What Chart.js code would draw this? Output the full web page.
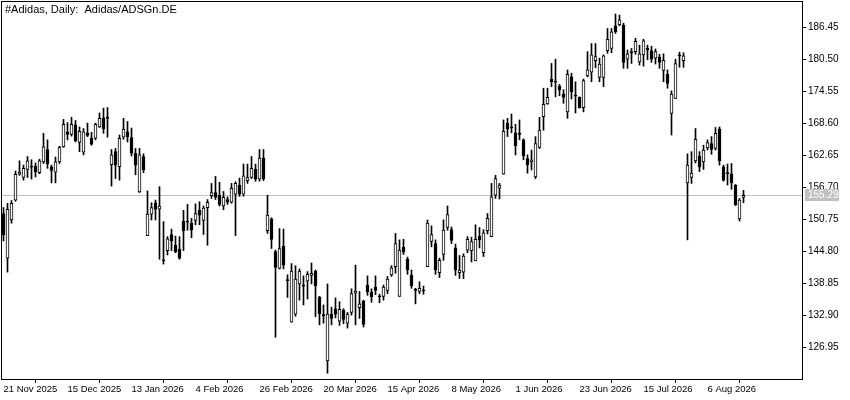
<!DOCTYPE html>
<html>
<head>
<meta charset="utf-8">
<script src="https://cdn.jsdelivr.net/npm/chart.js@4/dist/chart.umd.min.js"></script>
<style>
  html, body { margin: 0; padding: 0; background: #fff; }
  canvas { display: block; }
</style>
</head>
<body>
<canvas id="chart" width="850" height="400"></canvas>
<script>
// daily OHLC (one value per bar)
const opens = [151.9,143.6,150.7,154.4,159.2,158.6,160.1,160.7,160.7,159.5,161.5,163.8,160.6,159.6,161.5,164.3,167.1,166.6,168.4,165.1,
  163.3,166.9,165.9,165.9,168.0,169.7,169.9,161.0,163.4,160.6,166.1,167.1,166.0,163.1,155.9,162.5,147.8,151.8,153.9,152.7,
  143.3,145.0,148.0,146.0,145.3,150.5,150.5,150.1,150.6,152.5,150.6,153.0,155.2,155.8,155.3,153.3,154.5,154.0,155.5,157.2,
  155.5,158.0,158.6,160.1,158.3,162.2,148.7,150.9,144.8,141.7,145.8,139.6,131.7,133.2,138.8,138.6,139.3,140.4,141.2,136.3,
  133.1,124.5,133.2,134.2,131.9,133.9,131.5,133.5,137.1,134.4,135.6,138.6,137.3,138.2,136.6,136.5,137.6,140.5,142.0,136.5,
  145.6,143.4,140.4,137.8,137.4,137.6,142.0,146.7,146.3,140.9,144.3,149.3,148.9,145.5,140.9,141.0,145.1,145.0,143.1,147.7,
  144.6,148.7,147.6,155.3,156.6,159.2,168.7,168.0,166.9,166.8,165.6,162.1,161.5,158.7,164.2,169.9,172.3,176.9,176.5,175.6,
  174.1,170.8,177.3,173.9,173.5,171.6,177.5,178.2,180.3,177.2,177.2,182.2,182.6,186.8,187.0,186.9,180.6,182.0,182.0,180.1,
  181.4,182.6,182.2,180.8,181.0,178.5,177.8,170.5,173.3,181.4,180.3,157.6,158.6,161.7,162.6,161.5,164.1,164.9,164.0,167.6,
  160.6,159.5,159.3,157.2,150.9,154.9];
const highs = [153.0,153.8,154.3,159.8,161.7,160.9,162.5,161.9,161.3,162.0,166.8,165.6,160.9,162.4,164.4,169.4,168.8,169.8,169.2,168.0,
  167.7,168.7,167.0,168.7,170.6,171.5,171.6,163.8,164.0,166.5,169.6,169.0,167.8,164.0,164.0,163.0,156.1,153.9,154.4,156.9,
  150.4,147.6,149.0,147.7,147.6,152.5,153.6,151.0,153.7,154.1,153.3,154.5,157.5,158.8,157.7,156.0,155.0,157.5,157.8,158.5,
  161.1,161.1,162.5,161.1,163.8,163.8,155.3,151.1,145.1,149.1,149.0,140.5,142.6,142.2,141.6,140.3,141.1,142.7,141.4,136.5,
  134.9,138.8,134.5,136.2,135.5,134.2,133.5,137.9,142.3,137.4,135.8,140.3,137.9,140.3,136.9,138.6,140.2,142.2,148.2,147.0,
  147.1,143.8,141.4,138.0,139.2,138.4,150.7,149.6,147.0,143.6,150.7,153.3,149.4,146.2,144.1,144.4,147.6,147.5,149.8,149.3,
  148.9,151.9,157.5,159.0,157.5,169.3,169.6,170.4,168.5,169.3,165.8,162.8,163.7,166.2,169.8,175.2,175.2,179.8,180.6,175.9,
  174.9,178.6,178.0,176.4,173.6,176.9,182.0,183.5,183.5,180.8,181.4,186.3,186.3,189.0,188.8,187.3,182.3,182.6,184.5,183.2,
  184.3,183.2,183.0,182.5,181.5,181.6,178.6,174.7,180.6,181.9,181.8,163.0,163.4,167.7,163.4,164.6,165.6,166.2,167.9,168.0,
  160.9,161.1,161.2,157.3,154.7,156.2];
const lows = [146.8,141.0,150.1,154.2,159.0,158.1,158.6,158.3,158.7,159.3,161.2,160.3,157.6,157.6,161.2,164.2,165.6,166.3,165.2,163.4,
  162.8,166.2,164.6,165.6,167.9,166.8,166.1,157.0,158.4,158.1,165.7,165.2,162.6,159.1,155.8,159.5,147.8,150.7,150.7,143.4,
  142.5,144.2,145.0,144.6,143.4,145.0,148.8,147.4,149.8,149.8,148.0,146.0,154.7,154.5,153.3,152.6,153.6,153.8,147.8,155.1,
  155.1,157.5,158.4,157.9,157.9,158.0,148.2,145.4,128.9,141.6,141.6,136.3,131.7,132.8,135.8,134.9,136.0,138.8,132.7,131.2,
  131.5,122.2,131.2,132.5,131.1,131.4,130.6,133.0,131.2,132.4,130.8,136.7,135.4,136.8,135.3,135.8,137.0,140.2,140.8,136.5,
  144.3,140.6,138.0,135.1,137.0,136.9,142.0,145.7,140.6,140.0,143.2,148.8,146.3,140.4,139.8,139.8,144.6,142.9,143.1,145.5,
  143.9,148.1,147.6,154.7,154.6,159.2,166.2,166.9,162.8,165.6,161.9,159.4,160.0,158.4,164.0,167.4,172.2,175.5,173.6,173.8,
  172.4,169.6,173.2,170.6,171.5,170.8,177.3,176.4,179.0,176.4,175.5,181.7,181.8,185.4,186.8,178.9,178.9,179.8,181.5,179.5,
  179.3,180.5,180.0,179.7,178.9,176.4,175.2,166.5,173.3,179.1,179.1,147.0,157.5,161.3,159.7,160.1,163.7,162.9,163.7,160.9,
  157.9,157.2,156.4,153.4,150.5,153.9];
const closes = [147.9,152.7,153.8,159.2,159.6,160.3,161.7,160.5,159.7,161.7,164.3,161.1,159.9,161.5,164.2,168.5,166.6,168.5,165.4,167.2,
  167.1,166.4,164.8,168.5,169.6,167.7,169.6,162.8,160.9,165.9,167.6,166.2,163.1,160.9,162.8,160.0,151.8,153.0,152.7,153.3,
  143.1,147.2,146.8,144.8,143.6,148.7,150.3,148.8,151.9,151.6,152.9,154.0,155.8,154.9,153.6,154.9,154.0,156.6,157.5,155.5,
  158.9,158.6,160.3,158.3,162.2,158.4,151.6,147.1,141.9,145.4,142.3,139.4,141.2,139.7,141.2,138.4,140.6,140.8,138.5,133.3,
  132.9,133.2,132.4,133.2,134.1,132.2,133.2,137.0,137.5,135.1,131.3,137.3,136.4,137.6,136.4,138.2,139.7,141.8,146.3,145.1,
  144.7,141.4,138.5,137.6,138.0,137.5,150.1,148.0,141.4,143.2,148.8,151.7,146.9,141.4,141.4,144.0,147.1,146.7,147.1,147.0,
  148.3,151.0,155.0,158.4,157.2,167.2,167.6,167.8,164.5,166.6,162.6,161.0,161.9,164.9,167.4,172.2,173.5,176.4,176.3,174.9,
  173.5,177.8,174.5,173.7,171.6,176.6,178.6,181.4,181.1,179.7,181.2,184.3,185.7,185.7,187.9,180.0,181.6,181.7,183.9,181.6,
  184.0,182.3,180.6,182.0,180.0,180.4,176.1,174.1,179.8,181.2,181.2,160.9,159.4,165.7,160.5,163.7,165.1,163.8,166.8,161.7,
  158.1,159.3,157.6,153.5,154.4,155.29];

// axis labels
const dateTickIdx = [0, 16, 32, 48, 64, 80, 96, 112, 128, 144, 160, 176];
const dateLabels = ['21 Nov 2025', '15 Dec 2025', '13 Jan 2026', '4 Feb 2026', '26 Feb 2026', '20 Mar 2026',
  '15 Apr 2026', '8 May 2026', '1 Jun 2026', '23 Jun 2026', '15 Jul 2026', '6 Aug 2026'];
const priceTicks = [126.95, 132.90, 138.85, 144.80, 150.75, 156.70, 162.65, 168.60, 174.55, 180.50, 186.45];
const lastPrice = 155.29;
const title = '#Adidas, Daily:  Adidas/ADSGn.DE';

const FONT = 'Tahoma, "Liberation Sans", "DejaVu Sans", sans-serif';
Chart.defaults.font.family = FONT;
Chart.defaults.font.size = 10;
Chart.defaults.color = '#000';

const idx = opens.map((_, i) => i);
const isUp = idx.map(i => closes[i] >= opens[i]);

// frame, bid line and title, drawn around the library's own layout
const mtDecor = {
  id: 'mtDecor',
  beforeDatasetsDraw(chart) {
    const { ctx, chartArea: a, scales: { y } } = chart;
    const py = Math.round(y.getPixelForValue(lastPrice)) + 0.5;
    ctx.save();
    ctx.strokeStyle = '#c0c0c0';
    ctx.lineWidth = 1;
    ctx.beginPath();
    ctx.moveTo(a.left, py);
    ctx.lineTo(a.right, py);
    ctx.stroke();
    ctx.restore();
  },
  afterDraw(chart) {
    const { ctx, chartArea: a, scales: { y } } = chart;
    ctx.save();
    ctx.strokeStyle = '#000';
    ctx.lineWidth = 1;
    ctx.strokeRect(a.left - 0.5, a.top - 0.5, a.right - a.left + 1, a.bottom - a.top + 1);

    const py = Math.round(y.getPixelForValue(lastPrice));
    ctx.fillStyle = '#c0c0c0';
    ctx.fillRect(a.right + 3, py - 6, 34, 12);
    ctx.fillStyle = '#fff';
    ctx.font = '10px ' + FONT;
    ctx.textBaseline = 'middle';
    ctx.textAlign = 'left';
    ctx.fillText(lastPrice.toFixed(2), a.right + 6, py + 0.5);

    ctx.fillStyle = '#000';
    ctx.font = '11px ' + FONT;
    ctx.textBaseline = 'alphabetic';
    ctx.fillText(title, a.left + 3, a.top + 11);
    ctx.restore();
  }
};

new Chart(document.getElementById('chart'), {
  type: 'bar',
  data: {
    datasets: [
      {
        label: 'body',
        data: idx.map(i => ({ x: i, y: [opens[i], closes[i]] })),
        backgroundColor: isUp.map(u => u ? '#ffffff' : '#000000'),
        borderColor: '#000000',
        borderWidth: 1,
        borderSkipped: false,
        barThickness: 3,
        grouped: false
      },
      {
        label: 'wick',
        data: idx.map(i => ({ x: i, y: [lows[i], highs[i]] })),
        backgroundColor: '#000000',
        borderWidth: 0,
        barThickness: 1,
        grouped: false
      }
    ]
  },
  options: {
    responsive: false,
    animation: false,
    devicePixelRatio: 1,
    layout: { padding: { left: 2, top: 2, right: 0, bottom: 0 } },
    plugins: { legend: { display: false }, tooltip: { enabled: false } },
    scales: {
      x: {
        type: 'linear',
        offset: false,
        min: -0.375,
        max: 199.625,
        grid: { drawOnChartArea: false, tickLength: 4, color: '#000' },
        border: { color: '#000' },
        afterBuildTicks: s => { s.ticks = dateTickIdx.map(v => ({ value: v })); },
        afterFit: s => { s.height = 21; s.paddingLeft = 0; s.paddingRight = 0; },
        ticks: {
          autoSkip: false,
          maxRotation: 0,
          align: 'start',
          padding: 1,
          font: { size: 9.5 },
          callback: v => dateLabels[dateTickIdx.indexOf(v)]
        }
      },
      y: {
        position: 'right',
        min: 121.13,
        max: 191.23,
        grid: { drawOnChartArea: false, tickLength: 4, color: '#000' },
        border: { color: '#000' },
        afterBuildTicks: s => { s.ticks = priceTicks.map(v => ({ value: v })); },
        afterFit: s => { s.width = 48; s.paddingTop = 0; s.paddingBottom = 0; },
        ticks: { padding: 2, callback: v => v.toFixed(2) }
      }
    }
  },
  plugins: [mtDecor]
});
</script>
</body>
</html>
